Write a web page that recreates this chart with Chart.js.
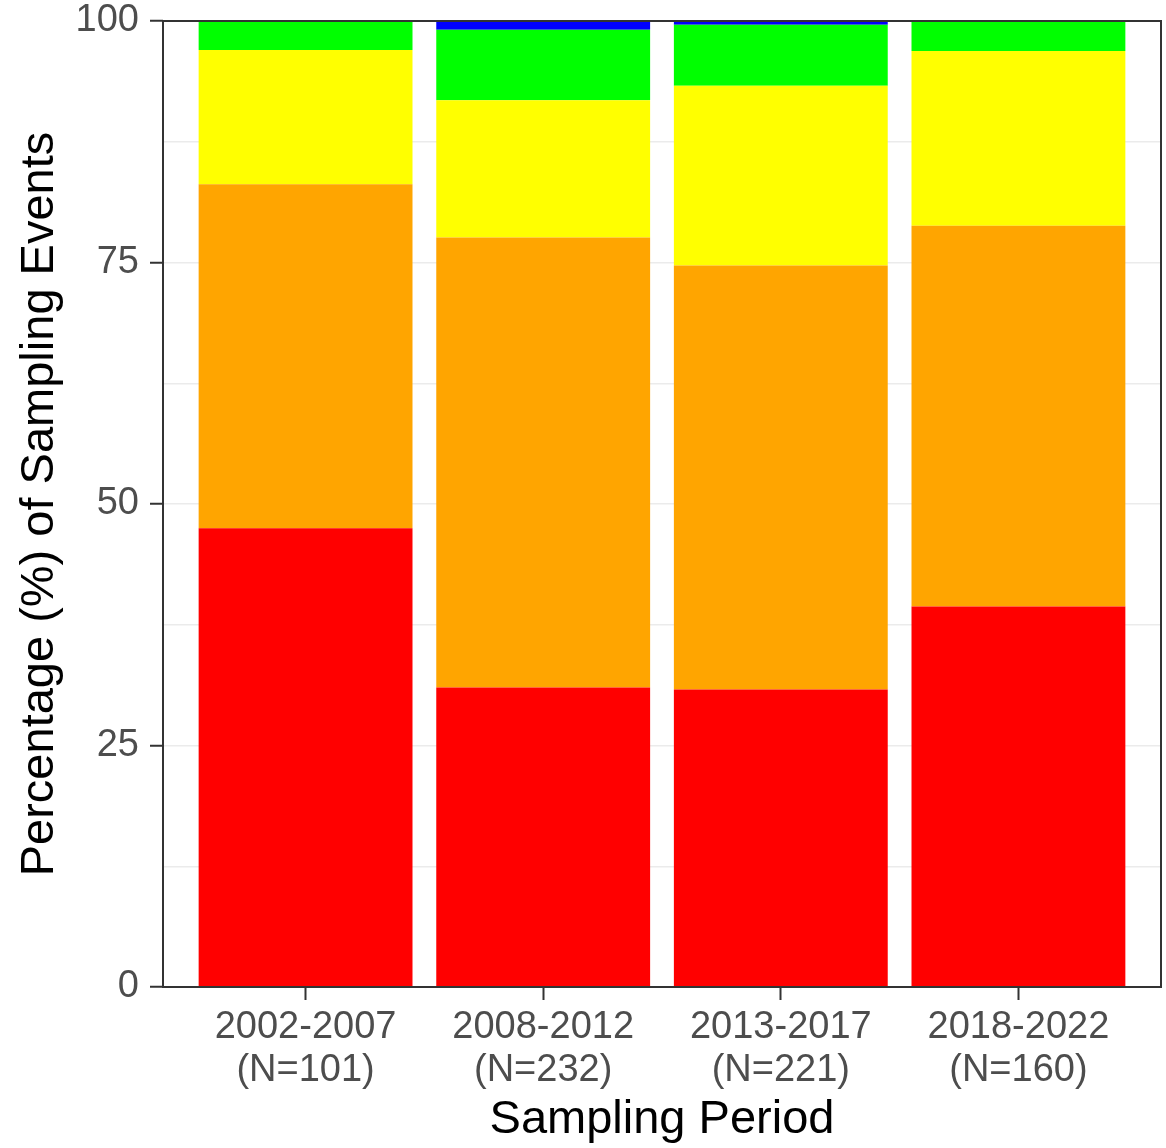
<!DOCTYPE html>
<html>
<head>
<meta charset="utf-8">
<title>Sampling events by period</title>
<script src="https://cdn.jsdelivr.net/npm/chart.js@4.4.1/dist/chart.umd.min.js"></script>
<style>
    html, body { margin: 0; padding: 0; background: #ffffff; }
    #chart { display: block; }
</style>
</head>
<body>
<canvas id="chart" width="1166" height="1148"></canvas>
<script>
// ============================================
// DATA
// ============================================

const periods = ["2002-2007", "2008-2012", "2013-2017", "2018-2022"];
const sampleSizes = ["(N=101)", "(N=232)", "(N=221)", "(N=160)"];

// percent of sampling events per period, bottom to top of each bar
const redValues = [47.5, 31.0, 30.8, 39.4];
const orangeValues = [35.6, 46.6, 43.9, 39.4];
const yellowValues = [13.9, 14.2, 18.6, 18.1];
const greenValues = [3.0, 7.3, 6.3, 3.1];
const blueValues = [0, 0.9, 0.4, 0];

const yTicks = [0, 25, 50, 75, 100];

// ============================================
// HELPERS
// ============================================

const FONT = "'Liberation Sans', Arial, Helvetica, sans-serif";

const toPoints = (values) => values.map((v, i) => ({ x: i + 1, y: v }));

const makeDataset = (label, values, color) => ({
    label: label,
    data: toPoints(values),
    backgroundColor: color,
    borderWidth: 0,
    barPercentage: 0.9,
    categoryPercentage: 1,
});

// ggplot-ish panel border round the plot area
const panelBorder = {
    id: "panelBorder",
    afterDatasetsDraw(chart) {
        const { ctx, chartArea } = chart;
        ctx.save();
        ctx.strokeStyle = "#333333";
        ctx.lineWidth = 2;
        ctx.strokeRect(
            chartArea.left,
            chartArea.top,
            chartArea.right - chartArea.left,
            chartArea.bottom - chartArea.top,
        );
        ctx.restore();
    },
};

// ============================================
// CHART
// ============================================

new Chart(document.getElementById("chart"), {
    type: "bar",
    data: {
        datasets: [
            makeDataset("red", redValues, "#FF0000"),
            makeDataset("orange", orangeValues, "#FFA500"),
            makeDataset("yellow", yellowValues, "#FFFF00"),
            makeDataset("green", greenValues, "#00FF00"),
            makeDataset("blue", blueValues, "#0000FF"),
        ],
    },
    options: {
        responsive: false,
        animation: false,
        layout: { padding: { top: 21, right: 5, left: 0, bottom: 0 } },
        plugins: {
            legend: { display: false },
            tooltip: { enabled: false },
        },
        scales: {
            x: {
                type: "linear",
                stacked: true,
                min: 0.4,
                max: 4.6,
                offset: false,
                afterBuildTicks: (scale) => {
                    scale.ticks = periods.map((p, i) => ({ value: i + 1 }));
                },
                afterFit: (scale) => {
                    scale.height = 161;
                    scale.paddingLeft = 0;
                    scale.paddingRight = 0;
                },
                border: { display: false },
                grid: {
                    offset: false,
                    drawOnChartArea: false,
                    drawTicks: true,
                    tickLength: 13,
                    tickColor: "#333333",
                    tickWidth: 2,
                },
                ticks: {
                    autoSkip: false,
                    maxRotation: 0,
                    padding: 6,
                    color: "#4D4D4D",
                    font: { family: FONT, size: 38, lineHeight: 1.14 },
                    callback: (value) => {
                        const i = Math.round(value) - 1;
                        return [periods[i], sampleSizes[i]];
                    },
                },
                title: {
                    display: true,
                    text: "Sampling Period",
                    color: "#000000",
                    font: { family: FONT, size: 47, lineHeight: 1.2 },
                    padding: { top: 0, bottom: 0 },
                },
            },
            y: {
                stacked: true,
                min: 0,
                max: 100,
                afterFit: (scale) => {
                    scale.width = 163;
                    scale.paddingTop = 0;
                    scale.paddingBottom = 0;
                },
                border: { display: false },
                grid: {
                    color: "#EBEBEB",
                    lineWidth: 1.5,
                    tickLength: 13,
                    tickWidth: 2,
                    tickColor: (ctx) =>
                        yTicks.includes(ctx.tick.value) ? "#333333" : "rgba(0,0,0,0)",
                },
                ticks: {
                    stepSize: 12.5,
                    padding: 11,
                    color: "#4D4D4D",
                    font: { family: FONT, size: 38, lineHeight: 1.0 },
                    callback: (value) => (yTicks.includes(value) ? String(value) : ""),
                },
                title: {
                    display: true,
                    text: "Percentage (%) of Sampling Events",
                    color: "#000000",
                    font: { family: FONT, size: 47, lineHeight: 1.2 },
                    padding: { top: 12, bottom: 0 },
                },
            },
        },
    },
    plugins: [panelBorder],
});
</script>
</body>
</html>
